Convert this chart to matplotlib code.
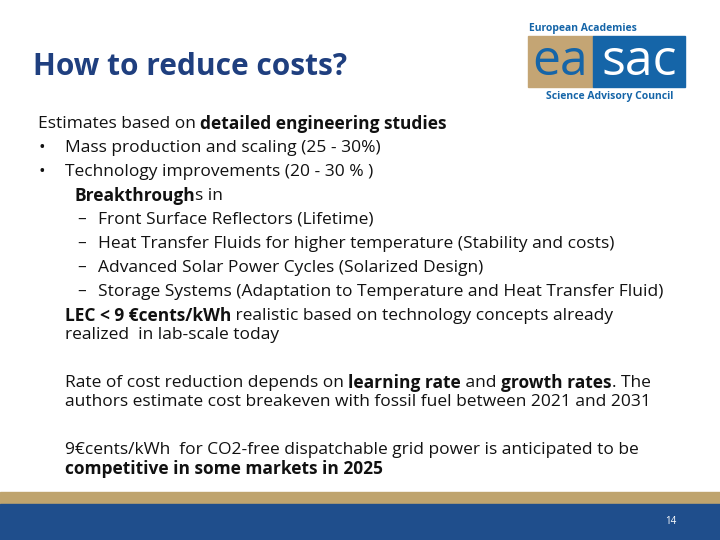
import matplotlib
matplotlib.use("Agg")
import matplotlib.pyplot as plt
from matplotlib.patches import Rectangle

title = "How to reduce costs?"
# each line: (x, y, marker, [(text, bold), ...])
lines = [
    (38, 124, "", [("Estimates based on ", False), ("detailed engineering studies", True)]),
    (38, 148, "•", [("Mass production and scaling (25 - 30%)", False)]),
    (38, 172, "•", [("Technology improvements (20 - 30 % )", False)]),
    (74, 196, "", [("Breakthrough", True), ("s in", False)]),
    (77, 220, "–", [("Front Surface Reflectors (Lifetime)", False)]),
    (77, 244, "–", [("Heat Transfer Fluids for higher temperature (Stability and costs)", False)]),
    (77, 268, "–", [("Advanced Solar Power Cycles (Solarized Design)", False)]),
    (77, 292, "–", [("Storage Systems (Adaptation to Temperature and Heat Transfer Fluid)", False)]),
    (65, 316, "", [("LEC < 9 €cents/kWh", True), (" realistic based on technology concepts already", False)]),
    (65, 335, "", [("realized  in lab-scale today", False)]),
    (65, 383, "", [("Rate of cost reduction depends on ", False), ("learning rate", True), (" and ", False), ("growth rates", True), (". The", False)]),
    (65, 402, "", [("authors estimate cost breakeven with fossil fuel between 2021 and 2031", False)]),
    (65, 450, "", [("9€cents/kWh  for CO2-free dispatchable grid power is anticipated to be", False)]),
    (65, 469, "", [("competitive in some markets in 2025", True)]),
]
page = "14"

FONT = ["Open Sans", "DejaVu Sans"]
fig = plt.figure(figsize=(7.2, 5.4), dpi=100)
ax = fig.add_axes([0, 0, 1, 1])
ax.set_xlim(0, 720); ax.set_ylim(540, 0); ax.axis("off")

ax.text(33, 67, title, fontsize=21.5, fontweight="bold", color="#1F3F7F",
        family=FONT, va="center", ha="left")

# logo
ax.add_patch(Rectangle((528, 36), 65, 51, color="#C4A574"))
ax.add_patch(Rectangle((593, 36), 92, 51, color="#1565A8"))
ax.text(529, 28, "European Academies", fontsize=7.5, fontweight="bold", color="#1565A8", family=FONT, va="center")
ax.text(546, 96, "Science Advisory Council", fontsize=7.5, fontweight="bold", color="#1565A8", family=FONT, va="center")
ax.text(560, 62, "ea", fontsize=36, fontweight="medium", color="#1565A8", family=FONT, va="center", ha="center")
ax.text(639, 62, "sac", fontsize=36, fontweight="medium", color="white", family=FONT, va="center", ha="center")

# footer
ax.add_patch(Rectangle((0, 492), 720, 12, color="#BFA46E"))
ax.add_patch(Rectangle((0, 504), 720, 36, color="#1F4E8C"))
ax.text(676, 521, page, fontsize=7, color="white", family=FONT, va="center", ha="right")

fig.canvas.draw()
r = fig.canvas.get_renderer()
inv = ax.transData.inverted()
for x, y, marker, segs in lines:
    cx = x
    if marker:
        ax.text(x, y, marker, fontsize=12.5, color="#111111", family=FONT, va="center", ha="left")
        cx = x + (27 if marker == "•" else 21)
    for txt, bold in segs:
        t = ax.text(cx, y, txt, fontsize=12.5, fontweight="bold" if bold else "normal",
                    color="#111111", family=FONT, va="center", ha="left")
        bb = t.get_window_extent(renderer=r)
        cx = inv.transform((bb.x1, bb.y0))[0]

fig.savefig("out.png", dpi=100)
